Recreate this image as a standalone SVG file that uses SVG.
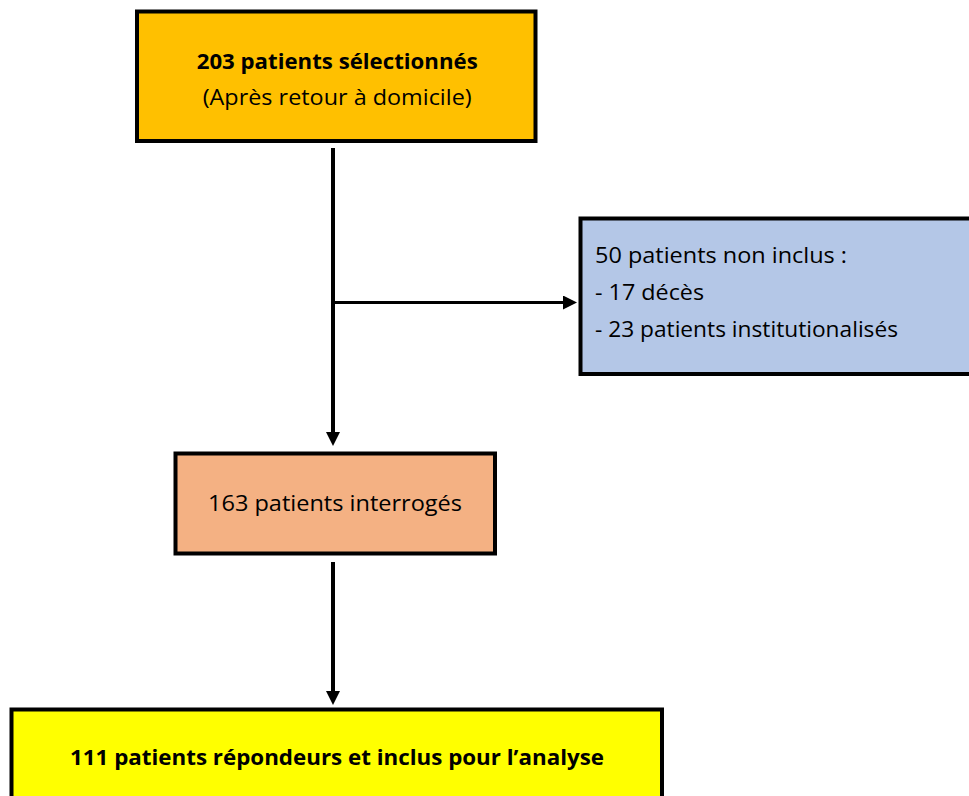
<svg xmlns="http://www.w3.org/2000/svg" width="969" height="796" viewBox="0 0 969 796">
  <style>
    .box { stroke: #000; stroke-width: 4; }
    .t { font-family: "Open Sans", "Liberation Sans", sans-serif; font-size: 21px; fill: #000; }
    .b { font-weight: bold; }
    .conn { stroke: #000; fill: none; }
  </style>
  <defs>
    <marker id="arrow" markerUnits="userSpaceOnUse" markerWidth="14" markerHeight="14" refX="4" refY="7" orient="auto">
      <path d="M0,0 L14,7 L0,14 z" fill="#000"/>
    </marker>
  </defs>
  <rect x="0" y="0" width="969" height="796" fill="#fff"/>

  <g id="connectors">
    <line class="conn" x1="333" y1="148" x2="333" y2="436" stroke-width="4" marker-end="url(#arrow)"/>
    <line class="conn" x1="333" y1="302.5" x2="567" y2="302.5" stroke-width="3" marker-end="url(#arrow)"/>
    <line class="conn" x1="333" y1="562" x2="333" y2="695" stroke-width="4" marker-end="url(#arrow)"/>
  </g>

  <g id="node-selected">
    <rect class="box" x="137" y="11.5" width="398.5" height="129.5" fill="#FFC000"/>
    <text class="t b" x="196.7" y="69.3" textLength="281" lengthAdjust="spacingAndGlyphs">203 patients sélectionnés</text>
    <text class="t" x="202.7" y="104.5" textLength="269" lengthAdjust="spacingAndGlyphs">(Après retour à domicile)</text>
  </g>

  <g id="node-excluded">
    <rect class="box" x="580.5" y="218.5" width="400" height="155.5" fill="#B4C7E7"/>
    <text class="t" x="595" y="263.3" textLength="252" lengthAdjust="spacingAndGlyphs">50 patients non inclus :</text>
    <text class="t" x="595" y="300.3" textLength="109" lengthAdjust="spacingAndGlyphs">- 17 décès</text>
    <text class="t" x="595" y="337.3" textLength="303" lengthAdjust="spacingAndGlyphs">- 23 patients institutionalisés</text>
  </g>

  <g id="node-interviewed">
    <rect class="box" x="175.5" y="453.5" width="319.5" height="100" fill="#F4B183"/>
    <text class="t" x="208" y="511" textLength="254" lengthAdjust="spacingAndGlyphs">163 patients interrogés</text>
  </g>

  <g id="node-analysed">
    <rect class="box" x="11.5" y="709.5" width="650.5" height="100" fill="#FFFF00"/>
    <text class="t b" x="70" y="765" textLength="534" lengthAdjust="spacingAndGlyphs">111 patients répondeurs et inclus pour l’analyse</text>
  </g>
</svg>
